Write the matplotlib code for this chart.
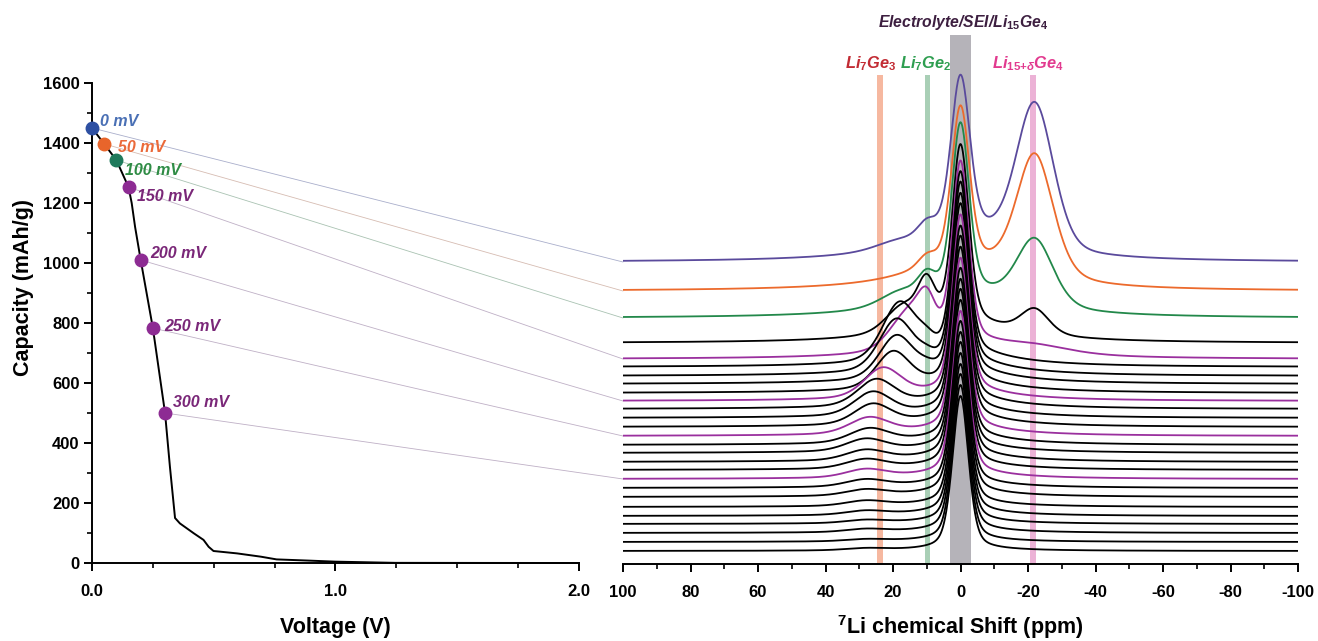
import numpy as np
import matplotlib
matplotlib.use("Agg")
import matplotlib.pyplot as plt
from matplotlib.patches import ConnectionPatch
from matplotlib.ticker import MultipleLocator, FixedLocator

plt.rcParams["font.family"] = ["Liberation Sans", "DejaVu Sans"]
plt.rcParams["font.weight"] = "bold"
plt.rcParams["mathtext.fontset"] = "custom"
plt.rcParams["mathtext.rm"] = "Liberation Sans:bold"
plt.rcParams["mathtext.bf"] = "Liberation Sans:bold"
plt.rcParams["mathtext.it"] = "Liberation Sans:italic:bold"

# ---------------- discharge curve ----------------
voltage = [0.0, 0.05, 0.10, 0.15, 0.163, 0.177, 0.20, 0.25, 0.30, 0.32, 0.341,
           0.361, 0.418, 0.458, 0.479, 0.499, 0.596, 0.694, 0.758, 0.89, 1.0, 1.245, 1.6, 2.0]
capacity = [1450, 1397, 1343, 1253, 1200, 1120, 1010, 783, 500, 321, 150,
            132, 99, 77, 54, 40, 32, 21, 12, 8, 4.5, 0.5, 0.2, 0.0]

point_labels = ["0 mV", "50 mV", "100 mV", "150 mV", "200 mV", "250 mV", "300 mV"]
point_voltage = [0.0, 0.05, 0.10, 0.15, 0.20, 0.25, 0.30]
point_capacity = [1450, 1397, 1343, 1253, 1010, 783, 500]
point_spectrum = [0, 1, 2, 4, 9, 13, 18]   # index of the matching NMR trace (top = 0)

# ---------------- 7Li NMR spectra (top trace first) ----------------
stack_offset = [302, 273, 246, 221, 205, 197, 188, 180, 171, 163, 155, 146, 137, 128,
                119, 111, 102, 94, 85, 76, 67, 57, 48, 40, 31, 22, 13]
broad_height = [33, 30, 28, 22, 16, 14, 13, 12, 11, 10, 10, 9, 9, 8,
                8, 7, 7, 6, 6, 5, 5, 4, 4, 3, 3, 2, 2]
main_height = [151, 152, 165, 175, 178, 180, 180, 178, 178, 176, 173, 173, 171, 170,
               169, 167, 166, 164, 162, 162, 160, 161, 159, 157, 156, 155, 153]
main_width = [6.5, 6.2, 6.0, 5.8, 5.7, 5.6, 5.6, 5.6, 5.6, 5.6, 5.6, 5.6, 5.6, 5.6,
              5.6, 5.6, 5.6, 5.6, 5.6, 5.6, 5.6, 5.6, 5.6, 5.6, 5.6, 5.6, 5.6]
main_lorentz = [0.25, 0.25, 0.28, 0.3, 0.32, 0.35, 0.36, 0.37, 0.38, 0.39, 0.4, 0.4, 0.4, 0.4,
                0.4, 0.4, 0.4, 0.4, 0.4, 0.4, 0.4, 0.4, 0.4, 0.4, 0.4, 0.4, 0.4]
ge2_height = [12, 10, 18, 38, 30, 8, 5, 3, 0, 0, 0, 0, 0, 0,
              0, 0, 0, 0, 0, 0, 0, 0, 0, 0, 0, 0, 0]
ge3_height = [5, 0, 12, 25, 38, 57, 50, 42, 36, 29, 26, 23, 20, 16,
              14, 12, 10, 9, 8, 7, 6, 5, 4, 3, 3, 2, 2]
ge3_shift = [20, 20, 18, 17, 15, 18, 19, 19, 20, 23, 25, 26, 26, 27,
             27, 28, 28, 28, 28, 28, 28, 28, 28, 28, 28, 28, 28]
ge3_width = [14, 14, 14, 12, 13, 12, 12, 12, 12, 13, 13, 13, 13, 14,
             14, 14, 14, 14, 14, 14, 14, 14, 14, 14, 14, 14, 14]
ge4_height = [146, 125, 68, 25, 8, 0, 0, 0, 0, 0, 0, 0, 0, 0,
              0, 0, 0, 0, 0, 0, 0, 0, 0, 0, 0, 0, 0]
ge4_width = [13, 13, 13, 10, 26, 10, 10, 10, 10, 10, 10, 10, 10, 10,
             10, 10, 10, 10, 10, 10, 10, 10, 10, 10, 10, 10, 10]
ge4_lorentz = [0.25, 0.35, 0.35, 0.35, 0.5, 0.35, 0.35, 0.35, 0.35, 0.35, 0.35, 0.35, 0.35, 0.35,
               0.35, 0.35, 0.35, 0.35, 0.35, 0.35, 0.35, 0.35, 0.35, 0.35, 0.35, 0.35, 0.35]

GE2_SHIFT = 10.0
GE4_SHIFT = -22.0
BROAD_FWHM = 36.0

band_shift = [23.8, 9.8, -21.5]

PURPLE = "#5a4a9c"
ORANGE = "#ec6a2c"
GREEN = "#22884a"
MAGENTA = "#9a2f9e"
trace_color = ["k"] * len(stack_offset)
trace_color[0], trace_color[1], trace_color[2] = PURPLE, ORANGE, GREEN
for i in (4, 9, 13, 18):
    trace_color[i] = MAGENTA

dot_colors = ["#2d4fa2", "#e8652b", "#1f7a5c", "#8d2b93", "#8d2b93", "#8d2b93", "#8d2b93"]
text_colors = ["#4a70b5", "#eb6a3a", "#2f8c45", "#7a2778", "#7a2778", "#7a2778", "#7a2778"]
link_colors = ["#a9aecb", "#d6bcb2", "#a9c2b2", "#bfb0c6", "#bfb0c6", "#bfb0c6", "#bfb0c6"]
label_offsets = [(6, -1), (10, -8), (6, -13), (6, -12), (7, -1), (8, -4), (6, 2)]


def pseudo_voigt(x, h, c, w, eta):
    z = (x - c) / w
    return h * (eta / (1 + 4 * z ** 2) + (1 - eta) * np.exp(-4 * np.log(2) * z ** 2))


W, H = 1318, 641
fig = plt.figure(figsize=(W / 100, H / 100), dpi=100)
axL = fig.add_axes([92 / W, (H - 563) / H, 487 / W, 480 / H])
axR = fig.add_axes([623 / W, (H - 564) / H, 675 / W, 544 / H])
axL.patch.set_visible(False)
axR.patch.set_visible(False)

# ---- left: capacity vs voltage ----
axL.plot(voltage, capacity, color="k", lw=1.4, zorder=3, clip_on=False)
axL.set_xlim(0, 2.0)
axL.set_ylim(0, 1600)
for s in ("top", "right"):
    axL.spines[s].set_visible(False)
for s in ("left", "bottom"):
    axL.spines[s].set_linewidth(1.4)
axL.xaxis.set_major_locator(FixedLocator([0, 1, 2]))
axL.xaxis.set_minor_locator(MultipleLocator(0.25))
axL.yaxis.set_major_locator(MultipleLocator(200))
axL.yaxis.set_minor_locator(MultipleLocator(100))
axL.set_xticklabels(["0.0", "1.0", "2.0"])
axL.tick_params(which="major", length=6, width=1.4, labelsize=12, pad=3)
axL.tick_params(which="minor", length=3.5, width=1.2)
axL.tick_params(axis="x", which="major", pad=9)

for k in range(len(point_labels)):
    axL.plot(point_voltage[k], point_capacity[k], "o", ms=9, color=dot_colors[k],
             zorder=6, clip_on=False)
    axL.annotate(point_labels[k], (point_voltage[k], point_capacity[k]),
                 xytext=label_offsets[k], textcoords="offset points",
                 fontsize=11.5, fontweight="bold", fontstyle="italic",
                 color=text_colors[k], va="bottom", ha="left", zorder=7)

# ---- right: stacked spectra ----
ppm = np.linspace(100, -100, 2001)
axR.set_xlim(100, -100)
axR.set_ylim(0, 544)

axR.axvspan(-3.1, 3.1, ymin=0, ymax=529 / 544, color="#b5b3b9", lw=0, zorder=1)
band_cols = ["#f6b8a0", "#a9cfb6", "#ecb2d6"]
for c, col in zip(band_shift, band_cols):
    axR.axvspan(c - 0.8, c + 0.8, ymin=0, ymax=489 / 544, color=col, lw=0, zorder=1)

n = len(stack_offset)
for i in range(n):
    y = (stack_offset[i]
         + pseudo_voigt(ppm, broad_height[i], 0.0, BROAD_FWHM, 1.0)
         + pseudo_voigt(ppm, main_height[i], 0.0, main_width[i], main_lorentz[i])
         + pseudo_voigt(ppm, ge2_height[i], GE2_SHIFT, 6.0, 0.2)
         + pseudo_voigt(ppm, ge3_height[i], ge3_shift[i], ge3_width[i], 0.3)
         + pseudo_voigt(ppm, ge4_height[i], GE4_SHIFT, ge4_width[i], ge4_lorentz[i]))
    axR.plot(ppm, y, color=trace_color[i], lw=1.3, zorder=2 + i * 0.01)

for s in ("top", "right", "left"):
    axR.spines[s].set_visible(False)
axR.spines["bottom"].set_linewidth(1.4)
axR.set_yticks([])
axR.xaxis.set_major_locator(MultipleLocator(20))
axR.xaxis.set_minor_locator(MultipleLocator(10))
axR.xaxis.set_major_formatter(plt.FuncFormatter(lambda v, p: f"{v:.0f}"))
axR.tick_params(which="major", length=6, width=1.4, labelsize=12, pad=9)
axR.tick_params(which="minor", length=3.5, width=1.2)

# ---- leader lines from discharge points to their spectra ----
for k in range(len(point_labels)):
    con = ConnectionPatch(xyA=(point_voltage[k], point_capacity[k]), coordsA=axL.transData,
                          xyB=(100, stack_offset[point_spectrum[k]]), coordsB=axR.transData,
                          color=link_colors[k], lw=0.6, zorder=-1)
    fig.add_artist(con)

# ---- text ----
def ftext(x, y, s, **kw):
    fig.text(x / W, 1 - y / H, s, **kw)

ftext(24, 288, "Capacity (mAh/g)", rotation=90, ha="center", va="center", fontsize=15.5)
ftext(335, 628, "Voltage (V)", ha="center", va="center", fontsize=15.5)
ftext(960, 627, r"$^{7}$Li chemical Shift (ppm)", ha="center", va="center", fontsize=15.5)

ftext(963, 27, r"Electrolyte/SEI/Li$_{\mathit{15}}$Ge$_{\mathit{4}}$", ha="center",
      va="baseline", fontsize=11.3, fontstyle="italic", color="#3d1f40")
ftext(871, 68, r"Li$_{\mathit{7}}$Ge$_{\mathit{3}}$", ha="center", va="baseline",
      fontsize=11.8, fontstyle="italic", color="#c22b33")
ftext(926, 68, r"Li$_{\mathit{7}}$Ge$_{\mathit{2}}$", ha="center", va="baseline",
      fontsize=11.8, fontstyle="italic", color="#2e9e50")
ftext(1028, 68, r"Li$_{\mathit{15{+}\delta}}$Ge$_{\mathit{4}}$", ha="center", va="baseline",
      fontsize=11.8, fontstyle="italic", color="#e23a8f")

fig.savefig("out.png", dpi=100)
